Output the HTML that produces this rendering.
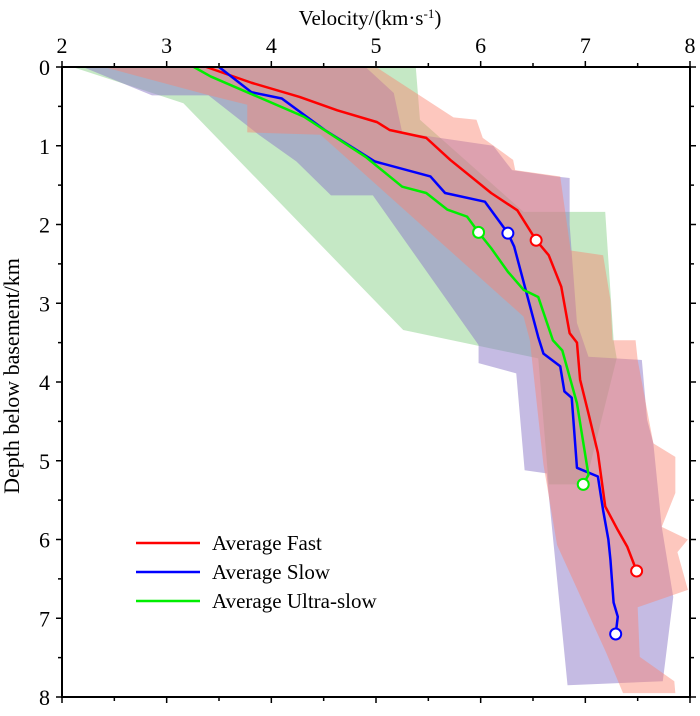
<!DOCTYPE html>
<html><head><meta charset="utf-8"><style>
html,body{margin:0;padding:0;background:#fff;}
svg text{font-family:"Liberation Serif","Times New Roman",serif;fill:#000;}
</style></head><body>
<svg id="chart" width="700" height="711" viewBox="0 0 700 711" xmlns="http://www.w3.org/2000/svg">
<g id="envelopes"></g>
<g id="lines"></g>
<g id="axes"></g>
<text x="370" y="25" font-size="21" text-anchor="middle">Velocity/(km·s<tspan font-size="13" dy="-7">-1</tspan><tspan dy="7">)</tspan></text>
<text transform="translate(19,376) rotate(-90)" font-size="22" text-anchor="middle">Depth below basement/km</text>
<g>
<g><line x1="136" y1="543" x2="200" y2="543" stroke="#f00" stroke-width="2.5"/><text x="212" y="550" font-size="21">Average Fast</text></g>
<g><line x1="136" y1="572" x2="200" y2="572" stroke="#00f" stroke-width="2.5"/><text x="212" y="579" font-size="21">Average Slow</text></g>
<g><line x1="136" y1="601" x2="200" y2="601" stroke="#0e0" stroke-width="2.5"/><text x="212" y="608" font-size="21">Average Ultra-slow</text></g>
</g>
</svg>
<script>
// data: [velocity km/s, depth km]
const fastV=[3.38,3.81,4.27,4.63,5.01,5.13,5.48,5.71,6.1,6.35,6.53,6.65,6.77,6.85,6.92,6.95,7.03,7.12,7.19,7.31,7.4,7.49];
const fastD=[0,0.2,0.38,0.55,0.7,0.8,0.9,1.18,1.6,1.82,2.2,2.39,2.79,3.38,3.5,3.97,4.4,4.9,5.58,5.88,6.09,6.4];
const slowV=[3.5,3.81,4.1,4.51,4.99,5.52,5.66,6.04,6.26,6.32,6.43,6.55,6.6,6.76,6.8,6.87,6.92,7.12,7.17,7.22,7.24,7.27,7.31,7.29];
const slowD=[0,0.32,0.4,0.8,1.2,1.39,1.6,1.71,2.11,2.28,2.83,3.43,3.64,3.8,4.12,4.2,5.09,5.2,5.63,6.0,6.26,6.8,6.98,7.2];
const ultraV=[3.26,3.42,4.31,4.9,5.25,5.48,5.68,5.87,5.98,6.1,6.26,6.41,6.55,6.69,6.78,6.92,7.03,6.98];
const ultraD=[0,0.12,0.63,1.14,1.52,1.6,1.81,1.9,2.1,2.3,2.6,2.83,2.92,3.47,3.6,4.27,5.18,5.3];
const markFast=[[6.53,2.2],[7.49,6.4]];
const markSlow=[[6.26,2.11],[7.29,7.2]];
const markUltra=[[5.98,2.1],[6.98,5.3]];
const ultraEnvV=[2.1,3.16,5.26,6.55,6.65,7.0,7.3,7.27,7.19,6.41,5.42,5.38];
const ultraEnvD=[0,0.46,3.34,3.7,5.3,5.3,3.7,3.47,1.84,1.84,0.67,0];
const slowEnvV=[2.2,2.86,3.4,3.88,4.24,4.57,4.97,5.98,5.98,6.34,6.42,6.63,6.83,7.74,7.84,7.73,7.65,7.59,7.54,7.03,6.92,6.85,6.85,6.72,6.3,6.12,5.25,5.17,4.9];
const slowEnvD=[0,0.36,0.36,0.86,1.2,1.63,1.63,3.53,3.76,3.89,5.12,5.16,7.85,7.8,6.73,5.84,4.78,4.48,3.72,3.68,3.25,2.0,1.41,1.39,1.31,1.0,0.83,0.33,0];
const fastEnvV=[2.4,3.41,3.77,3.77,4.47,6.41,6.47,6.6,6.73,7.2,7.36,7.86,7.85,7.52,7.5,7.98,7.88,7.98,7.73,7.86,7.86,7.65,7.5,7.48,7.26,7.24,7.17,6.86,6.76,6.33,6.31,6.02,5.96,5.74,5.0];
const fastEnvD=[0,0.36,0.48,0.83,0.86,3.17,3.47,5.05,6.07,7.44,7.95,7.95,7.8,7.49,6.86,6.64,6.16,6.0,5.84,5.41,4.95,4.78,3.72,3.47,3.47,2.96,2.39,2.33,1.39,1.31,1.18,0.9,0.67,0.64,0];
const xTicks=[2,3,4,5,6,7,8];
const yTicks=[0,1,2,3,4,5,6,7,8];

const X0=62,X1=690,Y0=67,Y1=697;
const sx=v=>X0+(v-2)/6*(X1-X0);
const sy=d=>Y0+d/8*(Y1-Y0);
const NS='http://www.w3.org/2000/svg';
function mk(tag,parent,attrs){const e=document.createElementNS(NS,tag);for(const k in attrs)e.setAttribute(k,attrs[k]);parent.appendChild(e);return e;}
const env=document.getElementById('envelopes');
function poly(V,D,fill,name){
  const p=mk('polygon',env,{points:V.map((v,i)=>sx(v)+','+sy(D[i])).join(' '),fill:fill});
  
  
}
poly(ultraEnvV,ultraEnvD,'rgba(140,210,140,0.5)','ultra-slow-envelope');
poly(slowEnvV,slowEnvD,'rgba(140,120,200,0.5)','slow-envelope');
poly(fastEnvV,fastEnvD,'rgba(250,130,110,0.45)','fast-envelope');
const lg=document.getElementById('lines');
function line(V,D,col,name){
  const p=mk('polyline',lg,{points:V.map((v,i)=>sx(v)+','+sy(D[i])).join(' '),fill:'none',stroke:col,'stroke-width':2.5,'stroke-linejoin':'round'});
  
  
}
function marks(M,col,name){
  M.forEach(m=>{
    const c=mk('circle',lg,{cx:sx(m[0]),cy:sy(m[1]),r:5.5,fill:'#fff',stroke:col,'stroke-width':2});
    
    
  });
}
line(fastV,fastD,'#f00','average-fast-line');
line(slowV,slowD,'#00f','average-slow-line');
line(ultraV,ultraD,'#0e0','average-ultra-slow-line');
marks(markFast,'#f00','fast-marker');
marks(markSlow,'#00f','slow-marker');
marks(markUltra,'#0e0','ultra-slow-marker');

const ax=document.getElementById('axes');
const fr=mk('rect',ax,{x:X0,y:Y0,width:X1-X0,height:Y1-Y0,fill:'none',stroke:'#000','stroke-width':2});


for(let v=2;v<=8.001;v+=0.5){
  const major=Math.abs(v-Math.round(v))<1e-6, L=major?6:4;
  mk('line',ax,{x1:sx(v),y1:Y0,x2:sx(v),y2:Y0-L,stroke:'#000','stroke-width':1.5});
  mk('line',ax,{x1:sx(v),y1:Y1,x2:sx(v),y2:Y1+L,stroke:'#000','stroke-width':1.5});
}
for(let d=0;d<=8.001;d+=0.5){
  const major=Math.abs(d-Math.round(d))<1e-6, L=major?6:4;
  mk('line',ax,{x1:X0,y1:sy(d),x2:X0-L,y2:sy(d),stroke:'#000','stroke-width':1.5});
  mk('line',ax,{x1:X1,y1:sy(d),x2:X1+L,y2:sy(d),stroke:'#000','stroke-width':1.5});
}
xTicks.forEach(v=>{
  const t=mk('text',ax,{x:sx(v),y:Y0-14,'font-size':22,'text-anchor':'middle'});
  t.textContent=v;
  
  
});
yTicks.forEach(d=>{
  const t=mk('text',ax,{x:X0-12,y:sy(d)+8,'font-size':22,'text-anchor':'end'});
  t.textContent=d;
  
  
});
</script>
</body></html>
